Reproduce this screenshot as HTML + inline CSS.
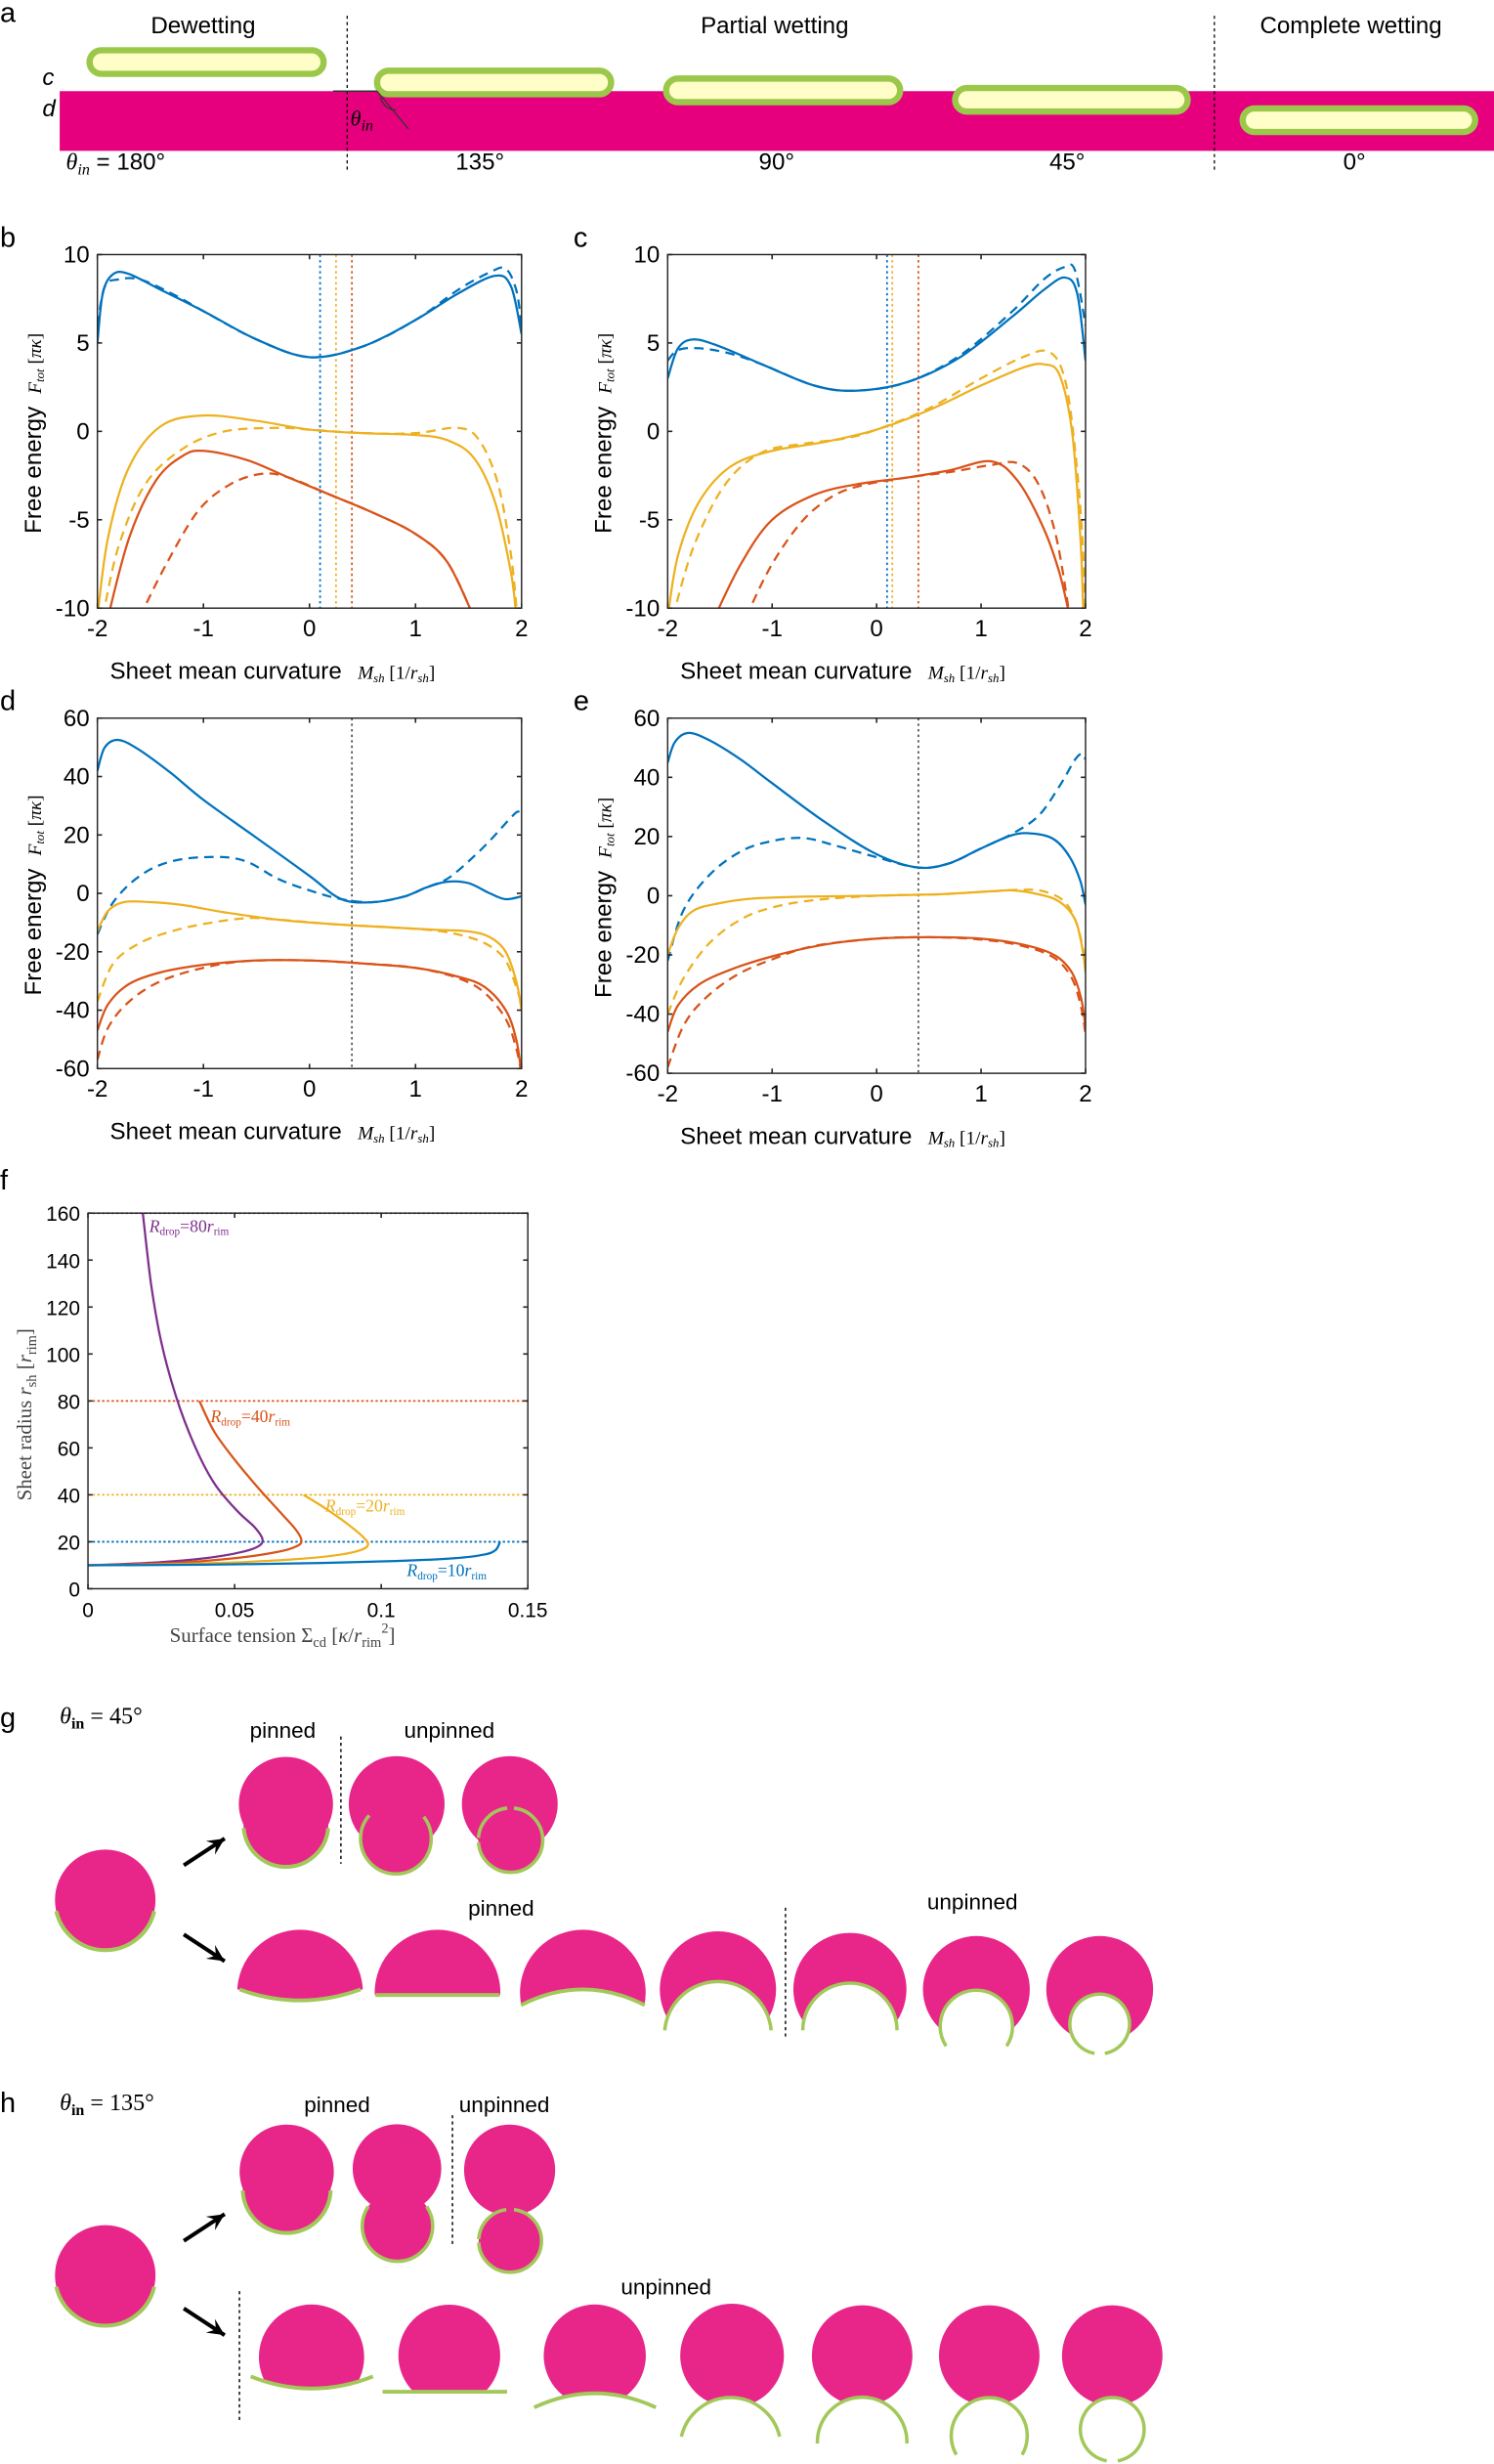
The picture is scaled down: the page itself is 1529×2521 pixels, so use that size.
<!DOCTYPE html>
<html><head><meta charset="utf-8"><style>
html,body{margin:0;padding:0;background:#fff}
svg{display:block}
text{font-family:"Liberation Sans",sans-serif;fill:#000}
.s{font-family:"Liberation Serif",serif;font-style:italic}
.r{font-family:"Liberation Serif",serif}
</style></head><body>
<svg id="sv" width="1529" height="2521" viewBox="0 0 951 1568" xmlns="http://www.w3.org/2000/svg">
<defs>
<clipPath id="cb"><rect x="62" y="162" width="270" height="225"/></clipPath>
<clipPath id="cc"><rect x="425" y="162" width="266" height="225"/></clipPath>
<clipPath id="cd"><rect x="62" y="457" width="270" height="223"/></clipPath>
<clipPath id="ce"><rect x="425" y="457" width="266" height="226"/></clipPath>
<clipPath id="cf"><rect x="56" y="772" width="280" height="239"/></clipPath>
</defs>
<!-- panel a -->
<text x="0" y="14" font-size="18">a</text>
<text x="96" y="21" font-size="15">Dewetting</text>
<text x="446" y="21" font-size="15">Partial wetting</text>
<text x="802" y="21" font-size="15">Complete wetting</text>
<rect x="38" y="58" width="913" height="38" fill="#E6007E"/>
<line x1="221" y1="10" x2="221" y2="108" stroke="#000" stroke-width="0.8" stroke-dasharray="2,2"/>
<line x1="773" y1="10" x2="773" y2="108" stroke="#000" stroke-width="0.8" stroke-dasharray="2,2"/>
<g fill="#FFFDC8" stroke="#9BC84A" stroke-width="4">
<rect x="57" y="32" width="149" height="15" rx="7.5"/>
<rect x="240" y="45" width="149" height="15" rx="7.5"/>
<rect x="424" y="50" width="149" height="15" rx="7.5"/>
<rect x="608" y="56" width="148" height="15" rx="7.5"/>
<rect x="791" y="69" width="148" height="15" rx="7.5"/>
</g>
<text x="27" y="54" font-size="15" style="font-style:italic">c</text>
<text x="27" y="74" font-size="15" style="font-style:italic">d</text>
<line x1="212" y1="58" x2="240" y2="58" stroke="#333" stroke-width="1"/>
<line x1="240" y1="58" x2="260" y2="82" stroke="#333" stroke-width="0.8"/>
<path d="M242,62 Q245,70 252,70" fill="none" stroke="#333" stroke-width="0.8"/>
<text x="223" y="80" font-size="14" class="s">θ<tspan font-size="10" dy="3">in</tspan></text>
<text x="42" y="108" font-size="15"><tspan class="s">θ</tspan><tspan class="s" font-size="10" dy="3">in</tspan><tspan dy="-3"> = 180°</tspan></text>
<text x="290" y="108" font-size="15">135°</text>
<text x="483" y="108" font-size="15">90°</text>
<text x="668" y="108" font-size="15">45°</text>
<text x="855" y="108" font-size="15">0°</text>
<g id="plots"></g>
<!-- f labels -->
<text x="0" y="757" font-size="18">f</text>
<text x="95" y="784" font-size="11" class="s" style="fill:#7E2F8E">R<tspan font-size="7" dy="2" style="font-style:normal">drop</tspan><tspan dy="-2" style="font-style:normal">=80</tspan>r<tspan font-size="7" dy="2" style="font-style:normal">rim</tspan></text>
<text x="134" y="905" font-size="11" class="s" style="fill:#D95319">R<tspan font-size="7" dy="2" style="font-style:normal">drop</tspan><tspan dy="-2" style="font-style:normal">=40</tspan>r<tspan font-size="7" dy="2" style="font-style:normal">rim</tspan></text>
<text x="207" y="962" font-size="11" class="s" style="fill:#EDB120">R<tspan font-size="7" dy="2" style="font-style:normal">drop</tspan><tspan dy="-2" style="font-style:normal">=20</tspan>r<tspan font-size="7" dy="2" style="font-style:normal">rim</tspan></text>
<text x="259" y="1003" font-size="11" class="s" style="fill:#0072BD">R<tspan font-size="7" dy="2" style="font-style:normal">drop</tspan><tspan dy="-2" style="font-style:normal">=10</tspan>r<tspan font-size="7" dy="2" style="font-style:normal">rim</tspan></text>
<text x="108" y="1045" font-size="13" class="r" style="fill:#444">Surface tension Σ<tspan font-size="9" dy="3">cd</tspan><tspan dy="-3"> [</tspan><tspan class="s">κ</tspan>/<tspan class="s">r</tspan><tspan font-size="9" dy="3">rim</tspan><tspan font-size="9" dy="-9">2</tspan><tspan dy="6">]</tspan></text>
<text transform="translate(20,955) rotate(-90)" font-size="13" class="r" style="fill:#444">Sheet radius <tspan class="s">r</tspan><tspan font-size="9" dy="3">sh</tspan><tspan dy="-3"> [</tspan><tspan class="s">r</tspan><tspan font-size="9" dy="3">rim</tspan><tspan dy="-3">]</tspan></text>
<g id="gh"></g>
</svg>
<script>
var NS="http://www.w3.org/2000/svg";
function el(p,t,a){var e=document.createElementNS(NS,t);for(var k in a)e.setAttribute(k,a[k]);p.appendChild(e);return e;}
function txt(p,x,y,s,fs,extra){var e=el(p,"text",Object.assign({x:x,y:y,"font-size":fs},extra||{}));e.textContent=s;return e;}
function smooth(pts){var d="M"+pts[0][0].toFixed(1)+","+pts[0][1].toFixed(1);
for(var i=0;i<pts.length-1;i++){var p0=pts[i-1]||pts[i],p1=pts[i],p2=pts[i+1],p3=pts[i+2]||p2;
var c1=[p1[0]+(p2[0]-p0[0])/6,p1[1]+(p2[1]-p0[1])/6],c2=[p2[0]-(p3[0]-p1[0])/6,p2[1]-(p3[1]-p1[1])/6];
d+="C"+c1[0].toFixed(1)+","+c1[1].toFixed(1)+" "+c2[0].toFixed(1)+","+c2[1].toFixed(1)+" "+p2[0].toFixed(1)+","+p2[1].toFixed(1);}return d;}
var B="#0072BD",R="#D95319",Y="#EDB120",P="#7E2F8E";
var G=document.getElementById("plots");
function axes(ax){
 var mx=function(v){return ax.x0+(v-ax.xmin)/(ax.xmax-ax.xmin)*(ax.x1-ax.x0);};
 var my=function(v){return ax.y1-(v-ax.ymin)/(ax.ymax-ax.ymin)*(ax.y1-ax.y0);};
 var g=el(G,"g",{});
 (ax.vl||[]).forEach(function(v){el(g,"line",{x1:mx(v[0]),x2:mx(v[0]),y1:ax.y0,y2:ax.y1,stroke:v[1],"stroke-width":1.1,"stroke-dasharray":"1.5,2"});});
 (ax.hl||[]).forEach(function(v){el(g,"line",{x1:ax.x0,x2:ax.x1,y1:my(v[0]),y2:my(v[0]),stroke:v[1],"stroke-width":1.1,"stroke-dasharray":"1.5,1.5"});});
 var cg=el(g,"g",{"clip-path":"url(#"+ax.clip+")"});
 ax.series.forEach(function(s){el(cg,"path",{d:smooth(s.p.map(function(q){return[mx(q[0]),my(q[1])];})),fill:"none",stroke:s.c,"stroke-width":1.4,"stroke-dasharray":s.d?"6,4":"none"});});
 el(g,"rect",{x:ax.x0,y:ax.y0,width:ax.x1-ax.x0,height:ax.y1-ax.y0,fill:"none",stroke:"#262626","stroke-width":0.9});
 ax.xt.forEach(function(v){var x=mx(v[0]);el(g,"line",{x1:x,x2:x,y1:ax.y1,y2:ax.y1-3,stroke:"#262626"});el(g,"line",{x1:x,x2:x,y1:ax.y0,y2:ax.y0+3,stroke:"#262626"});
  txt(g,x,ax.y1+18,v[1],ax.fs,{"text-anchor":"middle"});});
 ax.yt.forEach(function(v){var y=my(v[0]);el(g,"line",{x1:ax.x0,x2:ax.x0+3,y1:y,y2:y,stroke:"#262626"});el(g,"line",{x1:ax.x1,x2:ax.x1-3,y1:y,y2:y,stroke:"#262626"});
  txt(g,ax.x0-5,y+5,v[1],ax.fs,{"text-anchor":"end"});});
 if(ax.lab){txt(g,ax.lx,ax.y0-5,ax.lab,18,{});
  var t=txt(g,ax.x0+8,ax.y1+45,"",15,{});
  t.innerHTML='Sheet mean curvature <tspan class="s" font-size="12" dx="6">M</tspan><tspan class="s" font-size="8" dy="2">sh</tspan><tspan class="r" font-size="12" dy="-2"> [1/</tspan><tspan class="s" font-size="12">r</tspan><tspan class="s" font-size="8" dy="2">sh</tspan><tspan class="r" font-size="12" dy="-2">]</tspan>';
  var cy=(ax.y0+ax.y1)/2+5;
  var t2=el(g,"text",{transform:"translate("+(ax.x0-36)+","+(cy+60)+") rotate(-90)","font-size":15});
  t2.innerHTML='Free energy <tspan class="s" font-size="12" dx="4">F</tspan><tspan class="s" font-size="8" dy="2">tot</tspan><tspan class="r" font-size="12" dy="-2"> [</tspan><tspan class="s" font-size="12">πκ</tspan><tspan class="r" font-size="12">]</tspan>';}
}
var xt=[[-2,"-2"],[-1,"-1"],[0,"0"],[1,"1"],[2,"2"]];
var yt1=[[10,"10"],[5,"5"],[0,"0"],[-5,"-5"],[-10,"-10"]];
var yt2=[[60,"60"],[40,"40"],[20,"20"],[0,"0"],[-20,"-20"],[-40,"-40"],[-60,"-60"]];
axes({x0:62,x1:332,y0:162,y1:387,xmin:-2,xmax:2,ymin:-10,ymax:10,clip:"cb",fs:15,lab:"b",lx:0,xt:xt,yt:yt1,
vl:[[0.1,B],[0.25,Y],[0.4,R]],series:[
{c:B,p:[[-2,5],[-1.95,7.8],[-1.85,8.9],[-1.7,8.9],[-1.4,8],[-1,6.8],[-0.5,5.2],[0,4.2],[0.5,4.8],[1,6.3],[1.4,7.8],[1.75,8.8],[1.9,8.2],[2,5.5]]},
{c:B,d:1,p:[[-2,6],[-1.93,8.2],[-1.8,8.6],[-1.6,8.6],[-1.3,7.8],[-1,6.8],[-0.5,5.2],[0,4.2],[0.5,4.8],[1,6.3],[1.4,8],[1.7,9],[1.85,9.2],[1.95,8],[2,6]]},
{c:Y,p:[[-2,-10.5],[-1.9,-6],[-1.7,-2],[-1.4,0.3],[-1,0.9],[-0.5,0.6],[0,0.1],[0.5,-0.1],[1,-0.2],[1.3,-0.5],[1.55,-1.5],[1.75,-4],[1.9,-8],[1.95,-10.5]]},
{c:Y,d:1,p:[[-1.95,-10.5],[-1.8,-6.5],[-1.55,-3],[-1.2,-1],[-0.8,0],[-0.3,0.2],[0,0.1],[0.5,-0.1],[1,-0.1],[1.4,0.2],[1.6,-0.5],[1.78,-3],[1.9,-7],[1.96,-10.5]]},
{c:R,p:[[-1.9,-10.5],[-1.7,-6],[-1.45,-2.8],[-1.2,-1.4],[-1,-1.1],[-0.6,-1.6],[-0.2,-2.6],[0.2,-3.6],[0.6,-4.6],[1,-5.8],[1.3,-7.4],[1.55,-10.5]]},
{c:R,d:1,p:[[-1.6,-10.5],[-1.35,-7.5],[-1.05,-4.5],[-0.75,-3],[-0.45,-2.4],[-0.2,-2.6],[0.2,-3.6],[0.6,-4.6],[1,-5.8],[1.3,-7.4],[1.55,-10.5]]}]});
axes({x0:425,x1:691,y0:162,y1:387,xmin:-2,xmax:2,ymin:-10,ymax:10,clip:"cc",fs:15,lab:"c",lx:365,xt:xt,yt:yt1,
vl:[[0.1,B],[0.15,Y],[0.4,R]],series:[
{c:B,p:[[-2,3],[-1.9,4.7],[-1.75,5.2],[-1.5,4.8],[-1.1,3.8],[-0.6,2.6],[-0.2,2.3],[0.3,2.8],[0.8,4.2],[1.3,6.5],[1.6,8],[1.8,8.7],[1.92,7.8],[2,4]]},
{c:B,d:1,p:[[-2,4],[-1.9,4.6],[-1.7,4.7],[-1.4,4.4],[-1.1,3.8],[-0.6,2.6],[-0.2,2.3],[0.3,2.8],[0.8,4.3],[1.3,6.8],[1.6,8.6],[1.8,9.3],[1.9,9.1],[2,6]]},
{c:Y,p:[[-2,-10.5],[-1.9,-7],[-1.7,-4],[-1.4,-2],[-1,-1.1],[-0.5,-0.6],[0,0.1],[0.5,1.2],[1,2.6],[1.4,3.6],[1.6,3.8],[1.75,3.2],[1.87,0],[1.95,-6],[1.98,-10.5]]},
{c:Y,d:1,p:[[-1.95,-10.5],[-1.75,-6.5],[-1.45,-3],[-1.1,-1.2],[-0.7,-0.7],[-0.3,-0.4],[0,0.1],[0.5,1.3],[1,3],[1.4,4.2],[1.65,4.5],[1.8,3],[1.9,-1],[1.97,-6],[2,-10.5]]},
{c:R,p:[[-1.55,-10.5],[-1.3,-7.5],[-1,-5],[-0.6,-3.6],[-0.2,-3],[0.3,-2.6],[0.7,-2.2],[1.1,-1.7],[1.35,-2.8],[1.6,-5.5],[1.75,-8],[1.85,-10.5]]},
{c:R,d:1,p:[[-1.25,-10.5],[-1,-7.5],[-0.7,-5],[-0.4,-3.6],[-0.1,-3],[0.3,-2.6],[0.7,-2.3],[1.1,-1.9],[1.35,-1.8],[1.55,-3],[1.72,-6],[1.85,-10.5]]}]});
axes({x0:62,x1:332,y0:457,y1:680,xmin:-2,xmax:2,ymin:-60,ymax:60,clip:"cd",fs:15,lab:"d",lx:0,xt:xt,yt:yt2,
vl:[[0.4,"#555"]],series:[
{c:B,p:[[-2,42],[-1.93,50],[-1.8,52.5],[-1.6,49],[-1.3,41],[-1,32],[-0.5,19],[0,6],[0.3,-2],[0.6,-3],[0.9,-1],[1.1,2],[1.3,4],[1.5,3.5],[1.7,0],[1.85,-2],[2,-1]]},
{c:B,d:1,p:[[-2,-14],[-1.85,-3],[-1.6,6],[-1.3,11],[-0.9,12.5],[-0.6,11],[-0.3,5],[0,1],[0.3,-2],[0.6,-3],[0.9,-1],[1.1,2],[1.3,5],[1.5,11],[1.7,18],[1.9,26],[1.97,28],[2,26]]},
{c:Y,p:[[-2,-13],[-1.9,-6],[-1.75,-3],[-1.5,-3],[-1.2,-4],[-0.8,-6.5],[-0.3,-9],[0.2,-10.5],[0.7,-11.5],[1.2,-12.5],[1.5,-13],[1.7,-15],[1.85,-20],[1.95,-30],[2,-40]]},
{c:Y,d:1,p:[[-2,-37],[-1.85,-24],[-1.6,-17],[-1.3,-13],[-1,-10.5],[-0.6,-8.5],[-0.3,-9],[0.2,-10.5],[0.7,-11.5],[1.2,-12.8],[1.5,-15],[1.7,-18],[1.85,-23],[1.95,-32],[2,-38]]},
{c:R,p:[[-2,-47],[-1.9,-38],[-1.7,-31],[-1.4,-27],[-1,-24.5],[-0.5,-23],[0,-23],[0.5,-24],[1,-25.5],[1.4,-28.5],[1.65,-32],[1.85,-40],[1.95,-50],[2,-62]]},
{c:R,d:1,p:[[-2,-57],[-1.9,-46],[-1.7,-37],[-1.4,-30],[-1,-25.5],[-0.6,-23.2],[0,-23],[0.5,-24],[1,-25.5],[1.4,-29],[1.65,-34],[1.85,-43],[1.95,-53],[2,-62]]}]});
axes({x0:425,x1:691,y0:457,y1:683,xmin:-2,xmax:2,ymin:-60,ymax:60,clip:"ce",fs:15,lab:"e",lx:365,xt:xt,yt:yt2,
vl:[[0.4,"#555"]],series:[
{c:B,p:[[-2,45],[-1.93,52],[-1.8,55],[-1.6,52.5],[-1.3,46],[-1,38],[-0.5,25],[0,14],[0.4,9.5],[0.7,11],[1,16],[1.3,20.5],[1.5,21],[1.7,19],[1.85,13],[1.95,5],[2,-3]]},
{c:B,d:1,p:[[-2,-22],[-1.85,-5],[-1.6,7],[-1.3,15],[-1,18.5],[-0.7,19.5],[-0.4,17],[0,13],[0.4,9.5],[0.7,11],[1,16],[1.3,21],[1.55,27],[1.75,37],[1.9,46],[1.97,48],[2,46]]},
{c:Y,p:[[-2,-20],[-1.9,-11],[-1.75,-5],[-1.5,-2.5],[-1.2,-1],[-0.7,-0.3],[0,0],[0.6,0.5],[1.1,1.5],[1.3,1.8],[1.55,0.5],[1.75,-2],[1.9,-8],[1.97,-18],[2,-26]]},
{c:Y,d:1,p:[[-2,-40],[-1.85,-28],[-1.6,-16],[-1.3,-8],[-1,-4],[-0.6,-1.5],[0,0],[0.6,0.5],[1.1,1.5],[1.4,2],[1.6,1.5],[1.8,-2],[1.92,-10],[2,-22]]},
{c:R,p:[[-2,-46],[-1.9,-37],[-1.7,-30],[-1.4,-25],[-1,-20.5],[-0.5,-16.5],[0,-14.5],[0.5,-14],[1,-14.5],[1.4,-16.5],[1.7,-20],[1.87,-26],[1.96,-35],[2,-45]]},
{c:R,d:1,p:[[-2,-58],[-1.85,-44],[-1.65,-35],[-1.35,-27],[-1,-21.5],[-0.6,-17],[0,-14.5],[0.5,-14],[1,-14.8],[1.4,-17],[1.7,-21],[1.87,-28],[1.96,-38],[2,-47]]}]});
axes({x0:56,x1:336,y0:772,y1:1011,xmin:0,xmax:0.15,ymin:0,ymax:160,clip:"cf",fs:13,
xt:[[0,"0"],[0.05,"0.05"],[0.1,"0.1"],[0.15,"0.15"]],
yt:[[0,"0"],[20,"20"],[40,"40"],[60,"60"],[80,"80"],[100,"100"],[120,"120"],[140,"140"],[160,"160"]],
hl:[[160,P],[80,R],[40,Y],[20,B]],series:[
{c:P,p:[[0.0187,160],[0.0215,130],[0.025,105],[0.03,82],[0.036,62],[0.043,45],[0.051,33],[0.057,26],[0.0595,21],[0.058,18],[0.052,15.5],[0.04,13],[0.025,11.3],[0.01,10.4],[0,10]]},
{c:R,p:[[0.038,80],[0.043,67],[0.05,55],[0.058,43],[0.066,32],[0.071,25],[0.0728,20.5],[0.071,18],[0.064,15.5],[0.05,13],[0.03,11],[0.012,10.3],[0,10]]},
{c:Y,p:[[0.0735,40],[0.08,35],[0.087,29],[0.093,23],[0.0955,19],[0.093,16.5],[0.085,14.3],[0.07,12.5],[0.05,11.2],[0.025,10.4],[0,10]]},
{c:B,p:[[0.1405,20],[0.139,16.5],[0.135,14.5],[0.125,13],[0.105,11.8],[0.08,11],[0.05,10.4],[0.02,10.1],[0,10]]}]});

// panels g,h
var H=document.getElementById("gh");
var PK="#E8268A",GR="#A3C85A";
function circ(x,y,r,f){el(H,"circle",{cx:x,cy:y,r:r,fill:f||PK});}
function arc(x,y,r,a1,a2,w){
 var p=function(a){var t=a*Math.PI/180;return[x+r*Math.cos(t),y+r*Math.sin(t)];};
 var s=p(a1),e=p(a2),large=Math.abs(a2-a1)>180?1:0;
 el(H,"path",{d:"M"+s[0]+","+s[1]+"A"+r+","+r+" 0 "+large+" 1 "+e[0]+","+e[1],fill:"none",stroke:GR,"stroke-width":w||2.2});}
function dline(x,y1,y2){el(H,"line",{x1:x,x2:x,y1:y1,y2:y2,stroke:"#000","stroke-width":0.9,"stroke-dasharray":"2,2"});}
function arrow(x1,y1,x2,y2){el(H,"line",{x1:x1,y1:y1,x2:x2,y2:y2,stroke:"#000","stroke-width":2.5});
 var a=Math.atan2(y2-y1,x2-x1),L=12,w=0.45;
 el(H,"path",{d:"M"+x2+","+y2+"L"+(x2-L*Math.cos(a-w))+","+(y2-L*Math.sin(a-w))+"L"+(x2-L*0.55*Math.cos(a))+","+(y2-L*0.55*Math.sin(a))+"L"+(x2-L*Math.cos(a+w))+","+(y2-L*Math.sin(a+w))+"Z",fill:"#000"});}
// pink circle cut by a quadratic curve (x1,y) - ctrl - (x2,y); everything below removed
function cutq(cx,cy,r,x1,y1,qx,qy,x2,y2){
 circ(cx,cy,r);
 el(H,"path",{d:"M"+(x1-3)+","+y1+"L"+x1+","+y1+"Q"+qx+","+qy+" "+x2+","+y2+"L"+(x2+3)+","+y2+"L"+(x2+3)+","+(cy+r+3)+"L"+(x1-3)+","+(cy+r+3)+"Z",fill:"#fff"});
 el(H,"path",{d:"M"+x1+","+y1+"Q"+qx+","+qy+" "+x2+","+y2,fill:"none",stroke:GR,"stroke-width":2.4});}
function hole(cx,cy,r,hx,hy,hr,a1,a2){circ(cx,cy,r);circ(hx,hy,hr,"#fff");arc(hx,hy,hr,a1,a2,2.2);}
// ---- g
txt(H,0,1099,"g",18,{});
var tg=txt(H,38,1097,"",15,{});tg.innerHTML='<tspan class="s">θ</tspan><tspan class="r" font-size="10" dy="3" font-weight="bold">in</tspan><tspan class="r" dy="-3"> = 45°</tspan>';
txt(H,180,1106,"pinned",14,{"text-anchor":"middle"});txt(H,286,1106,"unpinned",14,{"text-anchor":"middle"});
circ(67,1209,32);arc(67,1209,32,13,167,2.5);
arrow(117,1187,143,1170);arrow(117,1231,143,1248);
circ(182,1148,30);circ(182,1161,27);arc(182,1161,27,5,175,2.5);
dline(217,1105,1186);
circ(252.5,1148,30.5);circ(252,1170,22.5);arc(252,1170,22.5,-38,221,2.2);
circ(324.5,1148,30.5);circ(325,1171,20.5);arc(325,1171,20.5,-84,176,2.2);arc(325,1171,20.5,184,264,2.2);
txt(H,319,1219,"pinned",14,{"text-anchor":"middle"});txt(H,619,1215,"unpinned",14,{"text-anchor":"middle"});
dline(500,1214,1297);
cutq(191,1268,40,152.5,1266,191,1280,229.5,1266);
cutq(278.5,1268,40,239,1269.6,278.5,1269.6,318,1269.6);
cutq(371,1268,40,331.6,1276,371,1256,410.4,1276);
hole(457,1266,37,457,1295,34,185,355);
hole(541,1266,36,541,1292,30,180,360);
hole(621.5,1266,34,621.5,1289.5,23,147,393);
hole(700,1266,34,700,1288,19,100,440);
// ---- h
txt(H,0,1344,"h",18,{});
var th=txt(H,38,1343,"",15,{});th.innerHTML='<tspan class="s">θ</tspan><tspan class="r" font-size="10" dy="3" font-weight="bold">in</tspan><tspan class="r" dy="-3"> = 135°</tspan>';
txt(H,214.6,1344,"pinned",14,{"text-anchor":"middle"});txt(H,321,1344,"unpinned",14,{"text-anchor":"middle"});
circ(67,1448,32);arc(67,1448,32,13,167,2.5);
arrow(117,1426,143,1409);arrow(117,1469,143,1486);
circ(182.5,1382,30);circ(182.5,1393,28);arc(182.5,1393,28,2,178,2.5);
circ(252.7,1380,28.2);circ(253,1416.6,22.4);arc(253,1416.6,22.4,-34,214,2.2);
dline(288,1346,1428);
circ(324.4,1381,29);circ(324.7,1426,20);arc(324.7,1426,20,-83,177,2.2);arc(324.7,1426,20,183,263,2.2);
txt(H,424,1460,"unpinned",14,{"text-anchor":"middle"});
dline(152.4,1458,1540);
cutq(198.3,1500,33.5,159.6,1512.3,198.5,1527.7,237.4,1512.3);
circ(286,1499,32.4);el(H,"rect",{x:250,y:1522,width:75,height:12,fill:"#fff"});
el(H,"line",{x1:243.5,x2:322.8,y1:1522,y2:1522,stroke:GR,"stroke-width":2.4});
cutq(378.6,1499,32.5,340,1532,378.6,1514,417.5,1532);
hole(466,1499,33,465,1557.8,32.1,193,347);
hole(548.8,1499,32,548.8,1554,28.5,178,362);
hole(629.7,1499,32,629.7,1550,24.2,150,390);
hole(708,1499,32,708,1546,20.3,100,440);
</script>
</body></html>
